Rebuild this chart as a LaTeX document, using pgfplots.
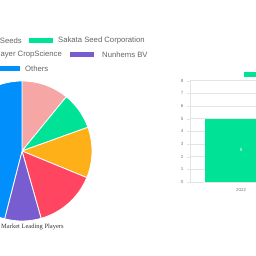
\documentclass[border=0pt]{standalone}
\usepackage{pgfplots}
\pgfplotsset{compat=1.18}
\usepackage{fontspec}
\setmainfont{Liberation Sans}
\newfontfamily\seriffont{Liberation Serif}
\definecolor{cpink}{RGB}{247,166,166}
\definecolor{cgreen}{RGB}{0,227,150}
\definecolor{corange}{RGB}{254,176,25}
\definecolor{cred}{RGB}{255,69,96}
\definecolor{cpurple}{RGB}{119,93,208}
\definecolor{cblue}{RGB}{0,143,251}
\definecolor{ctext}{RGB}{100,100,100}
\definecolor{cgrid}{RGB}{228,228,228}
\definecolor{ctick}{RGB}{120,120,120}
\begin{document}
\begin{tikzpicture}[x=1pt,y=1pt]
\useasboundingbox (0,0) rectangle (256,256);
\clip (0,0) rectangle (256,256);
% pie shares (percent), clockwise from top
\def\vA{10.9}\def\vB{8.6}\def\vC{11.7}\def\vD{14.4}\def\vE{8.4}\def\vF{46.0}
\pgfmathsetmacro\aA{90}
\pgfmathsetmacro\aB{\aA-3.6*\vA}
\pgfmathsetmacro\aC{\aB-3.6*\vB}
\pgfmathsetmacro\aD{\aC-3.6*\vC}
\pgfmathsetmacro\aE{\aD-3.6*\vD}
\pgfmathsetmacro\aF{\aE-3.6*\vE}
\pgfmathsetmacro\aG{\aF-3.6*\vF}
\begin{axis}[at={(-48pt,35pt)}, anchor=south west, scale only axis,
  width=140pt, height=140pt, xmin=-1, xmax=1, ymin=-1, ymax=1,
  hide axis, clip=false]
\filldraw[fill=cpink, draw=white, line width=0.8pt] (axis cs:0,0) -- (axis cs:{cos(\aA)},{sin(\aA)}) arc[start angle=\aA, end angle=\aB, radius=70pt] -- cycle;
\filldraw[fill=cgreen, draw=white, line width=0.8pt] (axis cs:0,0) -- (axis cs:{cos(\aB)},{sin(\aB)}) arc[start angle=\aB, end angle=\aC, radius=70pt] -- cycle;
\filldraw[fill=corange, draw=white, line width=0.8pt] (axis cs:0,0) -- (axis cs:{cos(\aC)},{sin(\aC)}) arc[start angle=\aC, end angle=\aD, radius=70pt] -- cycle;
\filldraw[fill=cred, draw=white, line width=0.8pt] (axis cs:0,0) -- (axis cs:{cos(\aD)},{sin(\aD)}) arc[start angle=\aD, end angle=\aE, radius=70pt] -- cycle;
\filldraw[fill=cpurple, draw=white, line width=0.8pt] (axis cs:0,0) -- (axis cs:{cos(\aE)},{sin(\aE)}) arc[start angle=\aE, end angle=\aF, radius=70pt] -- cycle;
\filldraw[fill=cblue, draw=white, line width=0.8pt] (axis cs:0,0) -- (axis cs:{cos(\aF)},{sin(\aF)}) arc[start angle=\aF, end angle=\aG, radius=70pt] -- cycle;
\end{axis}
% pie legend
\begin{scope}[font=\fontsize{7.7}{8.5}\selectfont, text=ctext]
\node[anchor=east, inner sep=0] at (22,215) {Takii Seeds};
\fill[cgreen] (29,212.5) rectangle (53,217.5);
\node[anchor=west, inner sep=0] at (58,215) {Sakata Seed Corporation};
\node[anchor=east, inner sep=0] at (62,201) {Bayer CropScience};
\fill[cpurple] (70,198.5) rectangle (94,203.5);
\node[anchor=west, inner sep=0] at (102,201) {Nunhems BV};
\fill[cblue] (-4,184.5) rectangle (20,189.5);
\node[anchor=west, inner sep=0] at (25,187) {Others};
\end{scope}
\node[anchor=west, inner sep=0, font=\seriffont\fontsize{6.5}{7}\selectfont, text=black!80] at (1,29) {Market Leading Players};
% bar chart
\begin{axis}[at={(190pt,74pt)}, anchor=south west, scale only axis,
  width=204pt, height=101.3pt, xmin=-0.5, xmax=1.5, ymin=0, ymax=8,
  ytick={0,1,...,8}, xtick={0}, xticklabels={2022},
  ymajorgrids, grid style={cgrid, line width=0.5pt},
  axis x line*=bottom, axis y line*=left,
  axis line style={cgrid, line width=0.6pt},
  tick align=outside, major tick length=3pt,
  ytick style={cgrid}, xtick style={draw=none},
  tick label style={font=\fontsize{4.5}{5}\selectfont, text=ctick},
  /pgf/number format/assume math mode=true,
  clip=false]
\addplot[ybar, bar width=71.4pt, fill=cgreen, draw=none] coordinates {(0,5)};
\addplot[draw=none, mark=none, nodes near coords, point meta=explicit symbolic,
  every node near coord/.append style={anchor=center, text=white, font=\fontsize{4.5}{5}\selectfont}]
  coordinates {(0,2.5)[5]};
\end{axis}
\fill[cgreen] (244,179.3) rectangle (262,184.3);
\end{tikzpicture}
\end{document}
